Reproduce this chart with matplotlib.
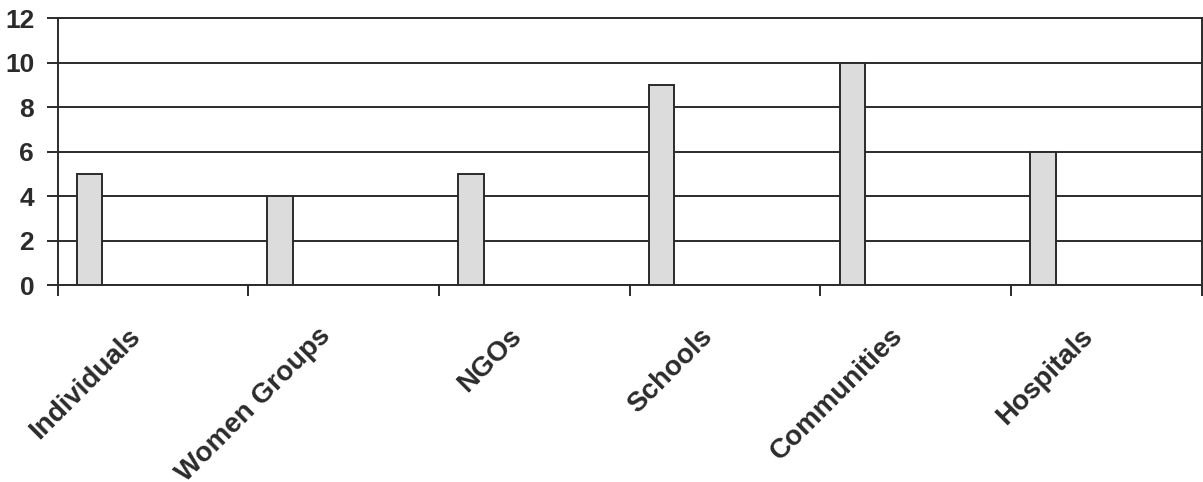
import matplotlib.pyplot as plt
from matplotlib.transforms import ScaledTranslation
import numpy as np

plt.rcParams["font.family"] = ["Liberation Sans", "DejaVu Sans"]

categories = ["Individuals", "Women Groups", "NGOs", "Schools", "Communities", "Hospitals"]
counts = [5, 4, 5, 9, 10, 6]
y_ticks = [0, 2, 4, 6, 8, 10, 12]

ink = "#2b2b2b"

fig = plt.figure(figsize=(12.03, 4.82), dpi=100)
ax = fig.add_axes([0.048, 0.4087, 0.951, 0.553])

x = np.arange(len(categories))
ax.bar(x + 0.10, counts, width=0.134, align="edge",
       color="#dcdcdc", edgecolor=ink, linewidth=1.4, zorder=3)

ax.set_xlim(0, len(categories))
ax.set_ylim(0, 12)
ax.set_yticks(y_ticks)
ax.yaxis.grid(True, color=ink, linewidth=1.4, zorder=0)
ax.set_axisbelow(True)

# slot boundaries get the tick marks, labels sit on hidden minor ticks
ax.set_xticks(np.arange(len(categories) + 1))
ax.set_xticklabels([])
ax.set_xticks(x + 0.5, minor=True)
ax.set_xticklabels(categories, minor=True, rotation=45, ha="right", va="center",
                   rotation_mode="anchor", fontsize=20, fontweight="bold", color=ink)
ax.tick_params(axis="x", which="minor", length=0, pad=34)
ax.tick_params(axis="x", which="major", length=8, width=1.4, color=ink, direction="out")
ax.tick_params(axis="y", length=8, width=1.4, color=ink, pad=9,
               labelsize=19, labelcolor=ink)
for lab in ax.get_yticklabels():
    lab.set_fontweight("bold")

shift = ScaledTranslation(-0.17, 0, fig.dpi_scale_trans)
for lab in ax.xaxis.get_minorticklabels():
    lab.set_transform(lab.get_transform() + shift)

for side in ["left", "right", "top", "bottom"]:
    ax.spines[side].set_color(ink)
    ax.spines[side].set_linewidth(1.4)

fig.savefig("out.png", dpi=100)
